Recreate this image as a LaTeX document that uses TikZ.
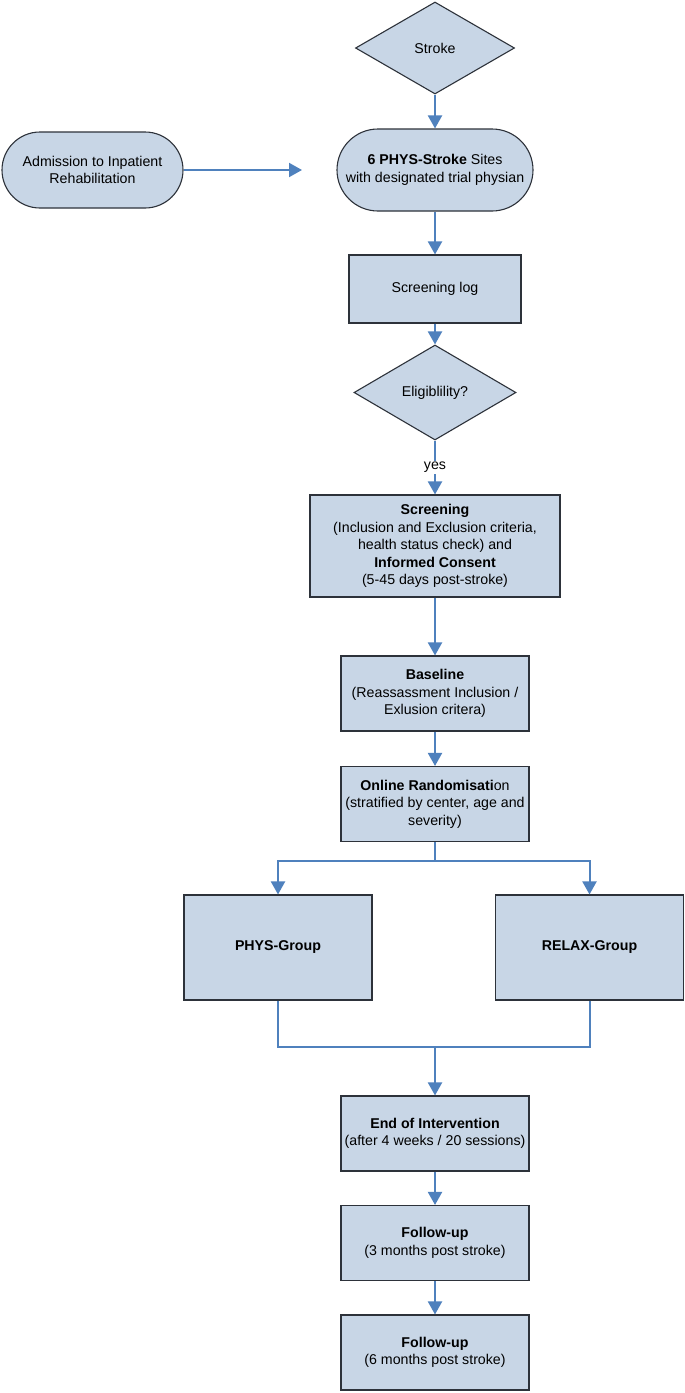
\documentclass[tikz,border=0pt]{standalone}
\usepackage{fontspec}
\setmainfont{Liberation Sans}
\usetikzlibrary{calc,shapes.geometric,arrows.meta}
\definecolor{boxfill}{RGB}{200,214,230}
\definecolor{boxline}{RGB}{45,50,58}
\definecolor{arrowblue}{RGB}{79,129,189}
\tikzset{
  box/.style={draw=boxline, fill=boxfill, line width=1.1pt, align=center,
    font=\fontsize{14.2}{17.5}\selectfont, inner sep=1.5pt},
  proc/.style={box, minimum width=188pt, minimum height=75pt},
  term/.style={box, rounded corners=38pt},
  dia/.style={box, diamond, inner sep=0pt},
  con/.style={draw=arrowblue, line width=2pt},
  arr/.style={con, -{Triangle[width=14pt,length=13pt]}}
}
\begin{document}
\begin{tikzpicture}[x=1pt,y=-1pt]
\fill[white] (0,0) rectangle (685,1393);
\useasboundingbox (0,0) rectangle (685,1393);
\node[dia, minimum width=159pt, minimum height=92pt] (stroke) at (435,48) {Stroke};
\node[term, minimum width=181pt, minimum height=76pt] (admit) at (92.5,170) {Admission to Inpatient\\Rehabilitation};
\node[term, rounded corners=41pt, minimum width=196pt, minimum height=82pt] (sites) at (435,170) {\textbf{6 PHYS-Stroke} Sites\\with designated trial physian};
\coordinate (admitend) at (302,170);
\node[box, minimum width=172pt, minimum height=68pt] (log) at (435,289) {Screening log};
\node[dia, minimum width=162pt, minimum height=95pt] (elig) at (435,392.5) {Eligiblility?};
\node[box, minimum width=250pt, minimum height=102pt] (screen) at (435,546) {\textbf{Screening}\\(Inclusion and Exclusion criteria,\\health status check) and\\\textbf{Informed Consent}\\(5-45 days post-stroke)};
\node[proc] (base) at (435,693.5) {\textbf{Baseline}\\(Reassassment Inclusion /\\Exlusion critera)};
\node[proc] (rand) at (435,804) {\textbf{Online Randomisati}on\\(stratified by center, age and\\severity)};
\coordinate (split) at (435,861);
\node[proc, minimum height=105pt] (phys) at (278,947.5) {\textbf{PHYS-Group}};
\node[proc, minimum height=105pt] (relax) at (589.5,947.5) {\textbf{RELAX-Group}};
\coordinate (join) at (435,1047);
\node[proc] (endint) at (435,1133.5) {\textbf{End of Intervention}\\(after 4 weeks / 20 sessions)};
\node[proc] (fup3) at (435,1243) {\textbf{Follow-up}\\(3 months post stroke)};
\node[proc] (fup6) at (435,1352.5) {\textbf{Follow-up}\\(6 months post stroke)};
\draw[arr] (stroke.south) -- (sites.north);
\draw[arr] (admit.east) -- (admitend);
\draw[arr] (sites.south) -- (log.north);
\draw[arr] (log.south) -- (elig.north);
\draw[arr] (elig.south) -- node[fill=white, inner sep=1.5pt, font=\fontsize{14.2}{17.5}\selectfont] {yes} (screen.north);
\draw[arr] (screen.south) -- (base.north);
\draw[arr] (base.south) -- (rand.north);
\draw[con] (rand.south) -- (split);
\draw[arr] (split) -| (phys.north);
\draw[arr] (split) -| (relax.north);
\draw[con] (phys.south) |- (join);
\draw[con] (relax.south) |- (join);
\draw[arr] (join) -- (endint.north);
\draw[arr] (endint.south) -- (fup3.north);
\draw[arr] (fup3.south) -- (fup6.north);
\end{tikzpicture}
\end{document}
